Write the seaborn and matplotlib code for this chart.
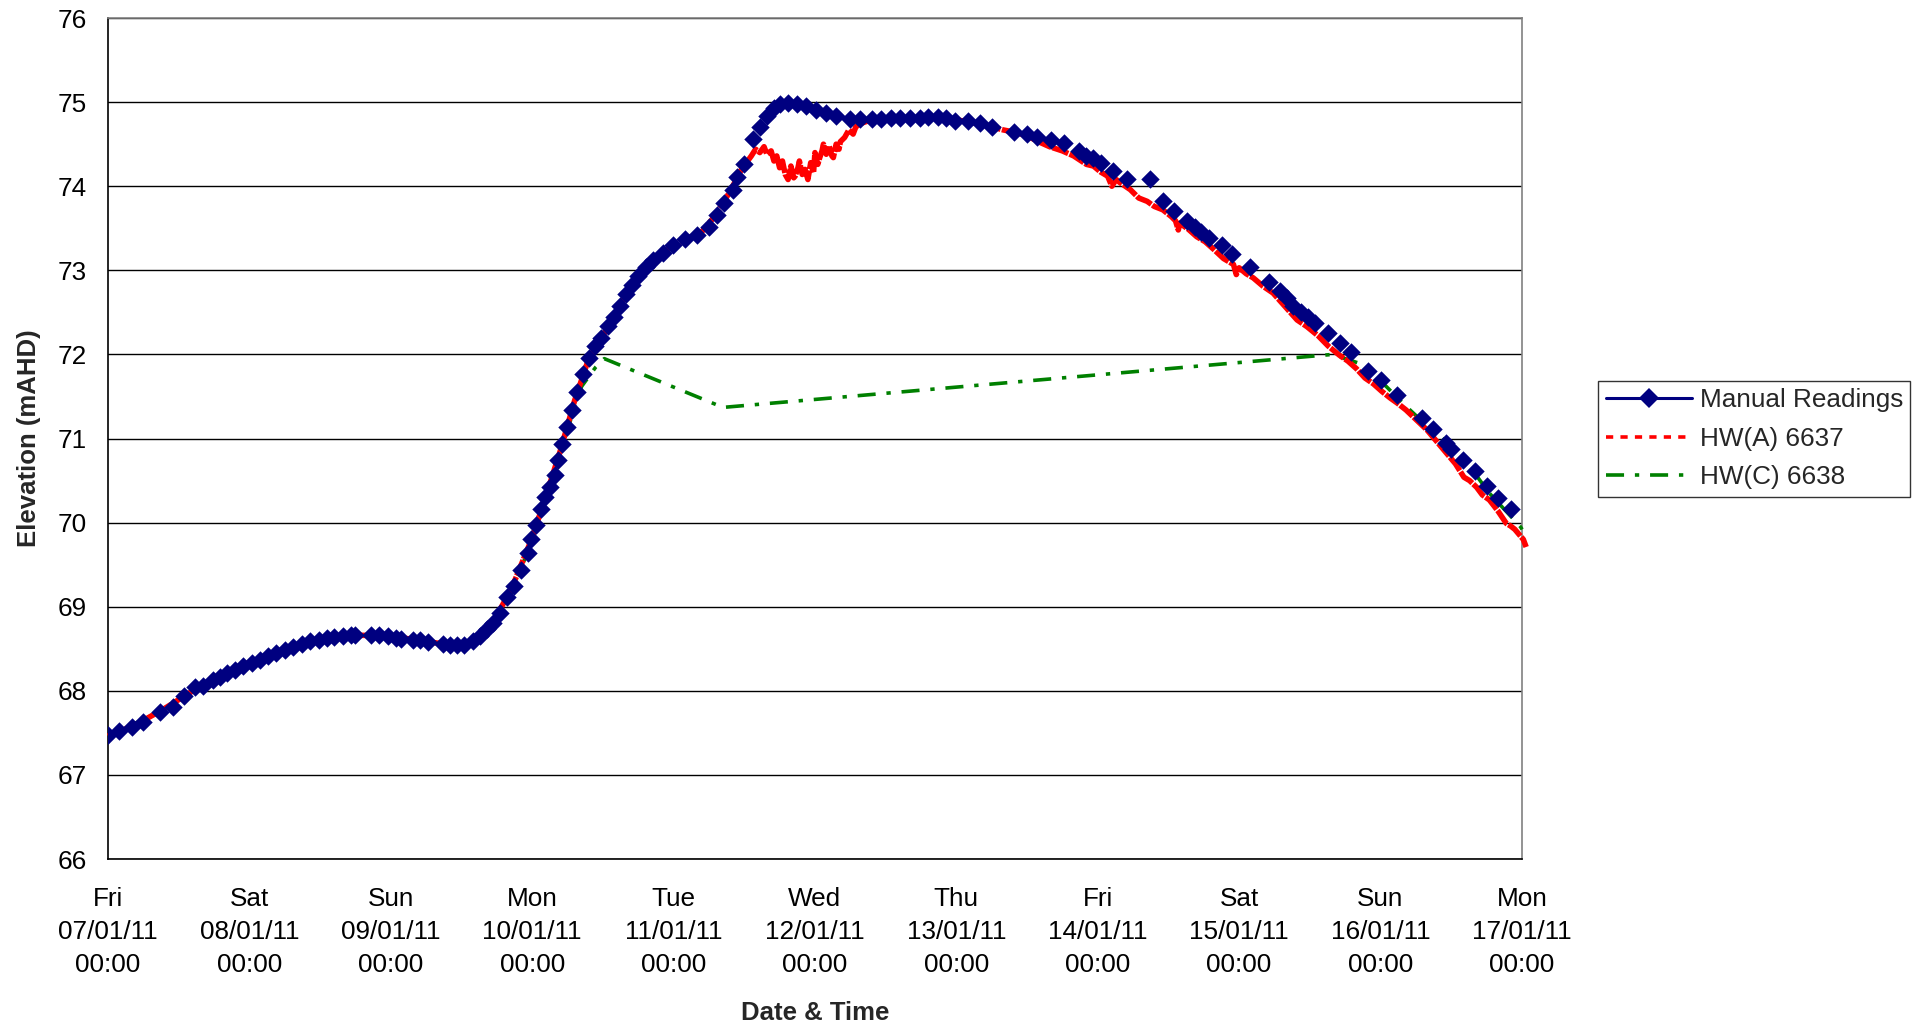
import matplotlib
matplotlib.use("Agg")
import matplotlib.pyplot as plt
import matplotlib.dates as mdates
from matplotlib.lines import Line2D
import numpy as np
import pandas as pd
import seaborn as sns

# ---------------- data (days after Fri 07/01/11 00:00, elevation mAHD) ----------------
start = pd.Timestamp("2011-01-07 00:00")

manual_days = [0.00, 0.08, 0.167, 0.245, 0.368, 0.457, 0.54, 0.615, 0.674, 0.745, 0.79, 0.84,
               0.90, 0.957, 1.016, 1.075, 1.134, 1.19, 1.25, 1.31, 1.37, 1.43, 1.49, 1.55, 1.60,
               1.66, 1.72, 1.75, 1.86, 1.92, 1.98, 2.04, 2.07, 2.16, 2.21, 2.26, 2.37, 2.42, 2.47,
               2.52, 2.58, 2.63, 2.68, 2.72, 2.77, 2.82, 2.87, 2.92, 2.969, 2.995, 3.030, 3.064,
               3.090, 3.125, 3.160, 3.186, 3.212, 3.247, 3.281, 3.316, 3.359, 3.403, 3.446, 3.490,
               3.533, 3.576, 3.620, 3.663, 3.707, 3.750, 3.802, 3.854, 3.924, 3.993, 4.080, 4.167,
               4.253, 4.306, 4.358, 4.42, 4.45, 4.50, 4.56, 4.61, 4.66, 4.71, 4.75, 4.81, 4.87,
               4.94, 5.01, 5.08, 5.15, 5.25, 5.32, 5.40, 5.47, 5.54, 5.60, 5.67, 5.74, 5.80, 5.87,
               5.93, 5.99, 6.08, 6.17, 6.25, 6.41, 6.50, 6.57, 6.67, 6.76, 6.87, 6.92, 6.97, 7.02,
               7.11, 7.21, 7.37, 7.46, 7.54, 7.63, 7.69, 7.73, 7.79, 7.88, 7.95, 8.08, 8.21, 8.29,
               8.34, 8.38, 8.44, 8.49, 8.536, 8.63, 8.71, 8.79, 8.91, 9.00, 9.12, 9.29, 9.37, 9.46,
               9.50, 9.58, 9.67, 9.75, 9.83, 9.92]
manual_vals = [67.47, 67.52, 67.57, 67.63, 67.75, 67.81, 67.94, 68.04, 68.06, 68.13, 68.17, 68.21,
               68.25, 68.30, 68.33, 68.37, 68.41, 68.45, 68.48, 68.52, 68.56, 68.59, 68.61, 68.63,
               68.64, 68.65, 68.66, 68.66, 68.66, 68.66, 68.65, 68.63, 68.62, 68.61, 68.60, 68.58,
               68.56, 68.54, 68.54, 68.55, 68.59, 68.65, 68.73, 68.81, 68.93, 69.11, 69.25, 69.44,
               69.64, 69.80, 69.97, 70.16, 70.31, 70.42, 70.57, 70.74, 70.93, 71.14, 71.34, 71.55,
               71.77, 71.96, 72.10, 72.20, 72.34, 72.45, 72.57, 72.72, 72.83, 72.93, 73.04, 73.12,
               73.21, 73.30, 73.37, 73.42, 73.52, 73.66, 73.80, 73.96, 74.11, 74.26, 74.56, 74.71,
               74.83, 74.93, 74.98, 74.99, 74.98, 74.95, 74.91, 74.87, 74.83, 74.80, 74.80, 74.80,
               74.80, 74.81, 74.81, 74.81, 74.81, 74.82, 74.82, 74.81, 74.78, 74.77, 74.75, 74.70,
               74.65, 74.62, 74.59, 74.55, 74.51, 74.42, 74.36, 74.34, 74.28, 74.18, 74.09, 74.09,
               73.82, 73.71, 73.59, 73.52, 73.46, 73.38, 73.30, 73.20, 73.04, 72.86, 72.75, 72.67,
               72.57, 72.50, 72.44, 72.37, 72.26, 72.14, 72.03, 71.80, 71.70, 71.52, 71.25, 71.11,
               70.95, 70.88, 70.75, 70.61, 70.44, 70.29, 70.16]

hwa_days = [0.00, 0.20, 0.40, 0.60, 0.80, 1.00, 1.20, 1.40, 1.60, 1.80, 2.00, 2.20, 2.40, 2.55,
            2.70, 2.85, 3.00, 3.10, 3.20, 3.30, 3.40, 3.50, 3.60, 3.70, 3.80, 3.90, 4.00, 4.10,
            4.20, 4.30, 4.40, 4.48, 4.55, 4.58, 4.61, 4.64, 4.66, 4.69, 4.71, 4.73, 4.75, 4.77,
            4.79, 4.81, 4.83, 4.85, 4.86, 4.88, 4.89, 4.91, 4.93, 4.95, 4.97, 4.99, 5.00, 5.02,
            5.03, 5.05, 5.06, 5.08, 5.10, 5.12, 5.13, 5.15, 5.17, 5.18, 5.21, 5.24, 5.27, 5.29,
            5.33, 5.40, 5.50, 5.60, 5.75, 5.90, 6.00, 6.10, 6.20, 6.33, 6.42, 6.50, 6.58, 6.66,
            6.75, 6.83, 6.92, 6.97, 7.02, 7.07, 7.10, 7.13, 7.16, 7.23, 7.29, 7.35, 7.40, 7.46,
            7.52, 7.55, 7.57, 7.58, 7.64, 7.70, 7.76, 7.82, 7.89, 7.96, 7.98, 8.00, 8.05, 8.10,
            8.17, 8.24, 8.32, 8.41, 8.48, 8.56, 8.63, 8.71, 8.77, 8.83, 8.89, 8.95, 9.01, 9.07,
            9.12, 9.18, 9.23, 9.28, 9.33, 9.37, 9.42, 9.48, 9.53, 9.59, 9.63, 9.68, 9.72, 9.77,
            9.83, 9.89, 9.92, 9.95, 9.98, 10.01, 10.03]
hwa_vals = [67.46, 67.60, 67.79, 68.00, 68.19, 68.34, 68.46, 68.57, 68.64, 68.66, 68.65, 68.60,
            68.55, 68.55, 68.75, 69.20, 69.82, 70.33, 70.86, 71.45, 71.95, 72.22, 72.52, 72.82,
            73.03, 73.18, 73.30, 73.38, 73.46, 73.66, 73.94, 74.20, 74.36, 74.44, 74.40, 74.47,
            74.38, 74.42, 74.30, 74.36, 74.22, 74.30, 74.14, 74.08, 74.24, 74.10, 74.12, 74.22,
            74.30, 74.14, 74.20, 74.08, 74.28, 74.16, 74.40, 74.26, 74.32, 74.42, 74.50, 74.38,
            74.48, 74.36, 74.34, 74.50, 74.44, 74.53, 74.58, 74.67, 74.62, 74.71, 74.75, 74.79,
            74.80, 74.80, 74.81, 74.81, 74.79, 74.76, 74.73, 74.67, 74.64, 74.60, 74.53, 74.47,
            74.42, 74.36, 74.26, 74.24, 74.17, 74.12, 74.00, 74.08, 74.04, 73.96, 73.86, 73.82,
            73.76, 73.72, 73.64, 73.59, 73.48, 73.56, 73.49, 73.40, 73.34, 73.25, 73.14, 73.07,
            72.95, 73.03, 72.96, 72.91, 72.81, 72.73, 72.58, 72.41, 72.33, 72.22, 72.10, 71.99,
            71.92, 71.83, 71.72, 71.65, 71.56, 71.48, 71.42, 71.34, 71.26, 71.18, 71.10, 71.02,
            70.92, 70.80, 70.70, 70.54, 70.50, 70.42, 70.33, 70.27, 70.14, 69.99, 69.96, 69.92,
            69.86, 69.80, 69.71]

hwc_days = [0.00, 0.30, 0.60, 0.90, 1.20, 1.50, 1.80, 2.10, 2.40, 2.60, 2.80, 3.00, 3.20, 3.35,
            3.45, 3.51, 4.35, 8.66, 8.84, 9.04, 9.17, 9.31, 9.44, 9.63, 9.77, 9.99, 10.02]
hwc_vals = [67.46, 67.70, 68.00, 68.27, 68.47, 68.61, 68.66, 68.62, 68.55, 68.60, 68.92, 69.80,
            70.85, 71.62, 71.85, 71.95, 71.37, 72.00, 71.90, 71.62, 71.40, 71.18, 71.00, 70.67,
            70.35, 69.95, 69.87]

series_names = ["Manual Readings", "HW(A) 6637", "HW(C) 6638"]
y_ticks = list(range(66, 77))

# ---------------- frames ----------------
def to_time(days):
    return start + pd.to_timedelta(np.asarray(days), unit="D")

df_manual = pd.DataFrame({"time": to_time(manual_days), "elev": manual_vals})
df_hwa = pd.DataFrame({"time": to_time(hwa_days), "elev": hwa_vals})
df_hwc = pd.DataFrame({"time": to_time(hwc_days), "elev": hwc_vals})

# ---------------- figure ----------------
sns.set_theme(style="white")
plt.rcParams["font.family"] = ["Liberation Sans", "DejaVu Sans"]

fig = plt.figure(figsize=(19.25, 10.24), dpi=100)
ax = fig.add_axes([0.0561, 0.1611, 0.7345, 0.8213])

navy = "#000080"
red = "#FF0000"
green = "#008000"

sns.lineplot(data=df_hwc, x="time", y="elev", ax=ax, color=green, lw=2.6,
             estimator=None, sort=False, zorder=3)
ax.lines[-1].set_dashes([5, 3, 1.2, 3])
sns.lineplot(data=df_hwa, x="time", y="elev", ax=ax, color=red, lw=4.0,
             estimator=None, sort=False, zorder=4)
ax.lines[-1].set_dashes([3.0, 0.25])
sns.scatterplot(data=df_manual, x="time", y="elev", ax=ax, color=navy, marker="D",
                s=88, linewidth=0, zorder=5)

for ln in ax.lines:
    ln.set_clip_on(False)

# axes limits / ticks
ax.set_xlim(start, start + pd.Timedelta(days=10))
ax.set_ylim(66, 76)
ax.set_yticks(y_ticks)
ax.xaxis.set_major_locator(mdates.DayLocator())
ax.xaxis.set_major_formatter(mdates.DateFormatter("%a\n%d/%m/%y\n%H:%M"))

ax.tick_params(axis="both", which="major", direction="out", length=7, width=1,
               color="black", labelsize=18.8, labelcolor="black")
ax.tick_params(axis="x", pad=13)
ax.tick_params(axis="y", pad=8)
for lab in ax.get_xticklabels():
    lab.set_linespacing(1.48)

ax.yaxis.grid(True, color="black", lw=1.0)
ax.xaxis.grid(False)
ax.set_axisbelow(True)

ax.spines["left"].set_color("black")
ax.spines["bottom"].set_color("black")
ax.spines["top"].set_color("#808080")
ax.spines["right"].set_color("#808080")
for sp in ax.spines.values():
    sp.set_linewidth(1.2)

ax.set_xlabel("Date & Time", fontsize=18.5, fontweight="bold", labelpad=17)
ax.set_ylabel("Elevation (mAHD)", fontsize=18.5, fontweight="bold", labelpad=12)

handles = [
    Line2D([0], [0], color=navy, lw=2.2, marker="D", markersize=10, markeredgewidth=0),
    Line2D([0], [0], color=red, lw=2.6, linestyle=(0, (2, 2))),
    Line2D([0], [0], color=green, lw=2.6, linestyle=(0, (5, 3, 1.2, 3))),
]
leg = fig.legend(handles, series_names, loc="lower left",
                 bbox_to_anchor=(0.830, 0.5146, 0.162, 0.116), mode="expand",
                 fontsize=18.8, frameon=True, fancybox=False, handlelength=3.3,
                 handletextpad=0.3, borderpad=0.3, labelspacing=0.55, borderaxespad=0)
leg.get_frame().set_edgecolor("black")
leg.get_frame().set_linewidth(1.0)

fig.savefig("out.png", dpi=100)
